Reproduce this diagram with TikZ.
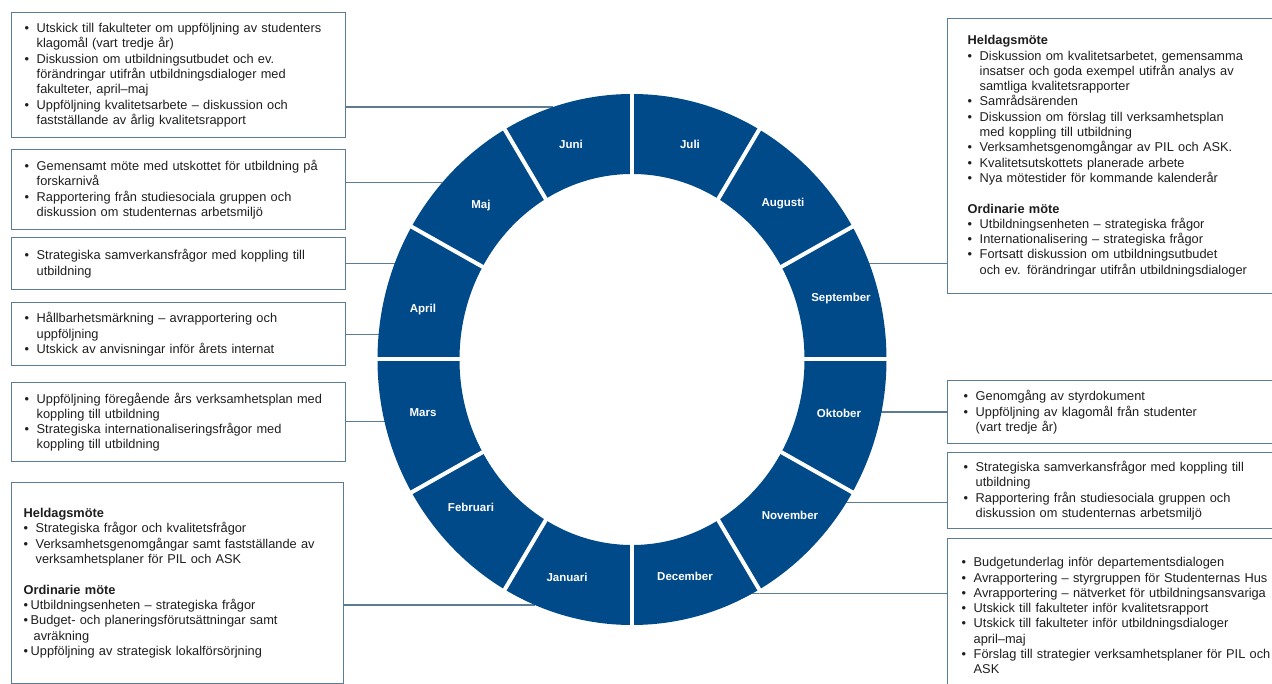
\documentclass[tikz,border=0pt]{standalone}
\usepackage{fontspec}
\setmainfont{Liberation Sans}
\definecolor{ringblue}{RGB}{0,74,138}
\definecolor{boxline}{RGB}{92,124,150}
\definecolor{txtgray}{RGB}{30,30,30}
\newcommand{\bul}{\makebox[12pt][l]{\textbullet}}
\newcommand{\cont}{\hspace*{12pt}}
\newcommand{\sbul}{\makebox[7pt][l]{\textbullet}}
\newcommand{\scont}{\hspace*{10pt}}
\begin{document}
\begin{tikzpicture}[x=1pt,y=1pt,
		box/.style={draw=boxline, line width=1.4pt, anchor=north west, align=left,
			inner xsep=13pt, inner ysep=0pt, text=txtgray, font=\fontsize{12.8}{15.3}\selectfont},
		lbox/.style={box, text width=308pt},
		rbox/.style={box, text width=320pt, inner xsep=16pt},
		link/.style={draw=boxline, line width=1.1pt},
		month/.style={text=white, font=\bfseries\fontsize{11.5}{13}\selectfont}]
	\useasboundingbox (0,0) rectangle (1272,-684);
	% left column
	\node[lbox, minimum height=125pt] (juniBox) at (11,-12) {
		\bul Utskick till fakulteter om uppföljning av studenters\\
		\cont klagomål (vart tredje år)\\
		\bul Diskussion om utbildningsutbudet och ev.\\
		\cont förändringar utifrån utbildningsdialoger med\\
		\cont fakulteter, april–maj\\
		\bul Uppföljning kvalitetsarbete – diskussion och\\
		\cont fastställande av årlig kvalitetsrapport};
	\node[lbox, minimum height=80pt] (majBox) at (11,-149) {
		\bul Gemensamt möte med utskottet för utbildning på\\
		\cont forskarnivå\\
		\bul Rapportering från studiesociala gruppen och\\
		\cont diskussion om studenternas arbetsmiljö};
	\node[lbox, minimum height=52pt] (aprilBox) at (11,-237) {
		\bul Strategiska samverkansfrågor med koppling till\\
		\cont utbildning};
	\node[lbox, minimum height=63pt] (aprilBoxB) at (11,-302) {
		\bul Hållbarhetsmärkning – avrapportering och\\
		\cont uppföljning\\
		\bul Utskick av anvisningar inför årets internat};
	\node[lbox, minimum height=79pt] (marsBox) at (11,-382) {
		\bul Uppföljning föregående års verksamhetsplan med\\
		\cont koppling till utbildning\\
		\bul Strategiska internationaliseringsfrågor med\\
		\cont koppling till utbildning};
	\node[lbox, minimum height=201pt, inner xsep=12pt] (janBox) at (11,-482) {
		\textbf{Heldagsmöte}\\
		\bul Strategiska frågor och kvalitetsfrågor\\
		\bul Verksamhetsgenomgångar samt fastställande av\\
		\cont verksamhetsplaner för PIL och ASK\\[15.3pt]
		\textbf{Ordinarie möte}\\
		\sbul Utbildningsenheten – strategiska frågor\\
		\sbul Budget- och planeringsförutsättningar samt\\
		\scont avräkning\\
		\sbul Uppföljning av strategisk lokalförsörjning};
	% right column
	\node[rbox, minimum height=275pt, inner xsep=20pt] (septBox) at (947,-18) {
		\textbf{Heldagsmöte}\\
		\bul Diskussion om kvalitetsarbetet, gemensamma\\
		\cont insatser och goda exempel utifrån analys av\\
		\cont samtliga kvalitetsrapporter\\
		\bul Samrådsärenden\\
		\bul Diskussion om förslag till verksamhetsplan\\
		\cont med koppling till utbildning\\
		\bul Verksamhetsgenomgångar av PIL och ASK.\\
		\bul Kvalitetsutskottets planerade arbete\\
		\bul Nya mötestider för kommande kalenderår\\[15.3pt]
		\textbf{Ordinarie möte}\\
		\bul Utbildningsenheten – strategiska frågor\\
		\bul Internationalisering – strategiska frågor\\
		\bul Fortsatt diskussion om utbildningsutbudet\\
		\cont och ev. förändringar utifrån utbildningsdialoger};
	\node[rbox, minimum height=63pt] (oktBox) at (947,-380) {
		\bul Genomgång av styrdokument\\
		\bul Uppföljning av klagomål från studenter\\
		\cont (vart tredje år)};
	\node[rbox, minimum height=76pt] (novBox) at (947,-452) {
		\bul Strategiska samverkansfrågor med koppling till\\
		\cont utbildning\\
		\bul Rapportering från studiesociala gruppen och\\
		\cont diskussion om studenternas arbetsmiljö};
	\node[rbox, minimum height=154pt, inner xsep=14pt] (decBox) at (947,-538) {
		\bul Budgetunderlag inför departementsdialogen\\
		\bul Avrapportering – styrgruppen för Studenternas Hus\\
		\bul Avrapportering – nätverket för utbildningsansvariga\\
		\bul Utskick till fakulteter inför kvalitetsrapport\\
		\bul Utskick till fakulteter inför utbildningsdialoger\\
		\cont april–maj\\
		\bul Förslag till strategier verksamhetsplaner för PIL och\\
		\cont ASK};
	% the wheel
	\begin{scope}[shift={(632,-359.5)}]
		\coordinate (juniEnd) at (108:254.5pt and 265.5pt);
		\coordinate (majEnd) at (138.3:254.5pt and 265.5pt);
		\coordinate (aprilEnd) at (158.7:254.5pt and 265.5pt);
		\coordinate (aprilEndB) at (174.5:254.5pt and 265.5pt);
		\coordinate (marsEnd) at (193.6:254.5pt and 265.5pt);
		\coordinate (janEnd) at (247.6:254.5pt and 265.5pt);
		\coordinate (septEnd) at (21.3:254.5pt and 265.5pt);
		\coordinate (oktEnd) at (-11.4:254.5pt and 265.5pt);
		\coordinate (novEnd) at (-32.7:254.5pt and 265.5pt);
		\coordinate (decEnd) at (-62:254.5pt and 265.5pt);
		\foreach \b in {juni,maj,april,mars,jan}
			\draw[link] (\b Box.east |- \b End) -- (\b End);
		\draw[link] (aprilBoxB.east |- aprilEndB) -- (aprilEndB);
		\foreach \b in {sept,okt,nov,dec}
			\draw[link] (\b Box.west |- \b End) -- (\b End);
		\fill[ringblue, even odd rule] (0,0) ellipse [x radius=254.5pt, y radius=265.5pt]
			(0,0) ellipse [x radius=172.5pt, y radius=185.5pt];
		\foreach \a in {0,30,...,330}
			\draw[white, line width=4pt] (\a:168pt and 181pt) -- (\a:258pt and 269pt);
		\foreach \m/\x/\y in {Juli/58/215.5,Augusti/151/155.5,September/209/60.5,
				Oktober/207/-53.5,November/158/-155.5,December/53/-216.5,
				Januari/-65/-217.5,Februari/-161/-147.5,Mars/-209/-53.5,
				April/-209/49.5,Maj/-151/153.5,Juni/-61/215.5}
			\node[month] (\m) at (\x,\y) {\m};
	\end{scope}
\end{tikzpicture}
\end{document}
